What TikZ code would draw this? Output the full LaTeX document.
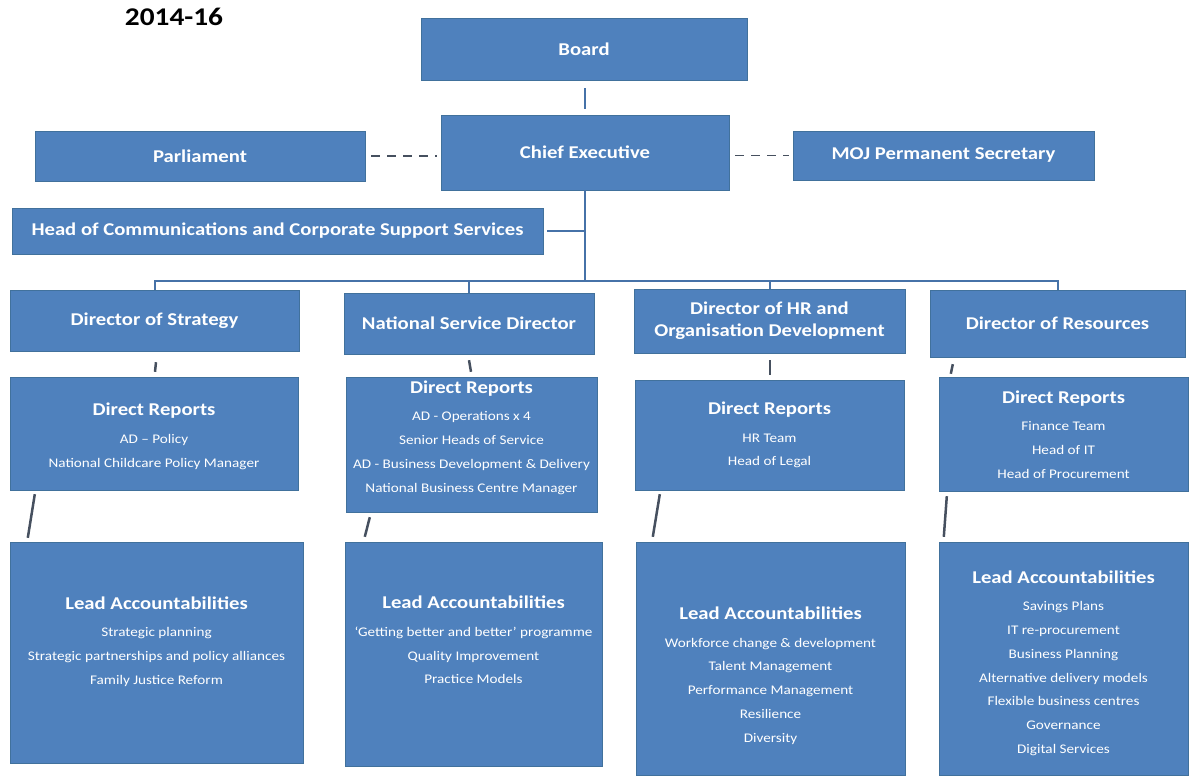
\documentclass[tikz,border=0pt]{standalone}
\usepackage{fontspec}
\setmainfont{Carlito}[FakeStretch=1.15]
\usetikzlibrary{calc}
\definecolor{boxblue}{HTML}{4F81BD}
\definecolor{boxedge}{HTML}{41719C}
\definecolor{linkblue}{HTML}{4672A8}
\definecolor{tickgrey}{HTML}{46505F}
\newcommand{\hdfont}{\fontsize{18}{22}\selectfont\bfseries}
\newcommand{\smfont}{\fontsize{13.2}{23.7}\selectfont}
\tikzset{
    box/.style={
        draw=boxedge, fill=boxblue, text=white,
        font=\hdfont, align=center, inner sep=2pt
    },
    boxtext/.style={text=white, font=\smfont, align=center, inner sep=0pt},
    link/.style={draw=linkblue, line width=2pt},
    tick/.style={draw=tickgrey, line width=2.5pt},
    dashlink/.style={draw=tickgrey, line width=1.6pt, dash pattern=on 9pt off 7pt}
}

\begin{document}
\begin{tikzpicture}[x=1pt, y=-1pt]
\useasboundingbox (0,0) rectangle (1190,776);

% Title
\node[font=\fontsize{25.5}{30}\selectfont\bfseries] (year) at (174,17) {2014-16};

% Top of the chart
\node[box, minimum width=326pt, minimum height=62pt] (board) at (584,49) {Board};
\node[box, minimum width=288pt, minimum height=75pt] (ceo) at (585,152.5) {Chief Executive};
\node[box, minimum width=330pt, minimum height=50pt] (parl) at (200,156) {Parliament};
\node[box, minimum width=301pt, minimum height=49pt] (moj) at (943.5,155.5) {MOJ Permanent Secretary};
\node[box, minimum width=531pt, minimum height=46pt] (comms) at (277.5,231) {Head of Communications and Corporate Support Services};

% Directors
\node[box, minimum width=289pt, minimum height=61pt] (ds) at (154.5,320.5) {Director of Strategy};
\node[box, minimum width=250pt, minimum height=61pt] (nsd) at (469,323.5) {National Service Director};
\node[box, minimum width=271pt, minimum height=64pt] (hr) at (769.5,321) {Director of HR and\\Organisation Development};
\node[box, minimum width=255pt, minimum height=67pt] (dres) at (1057.5,323.5) {Director of Resources};

% Direct reports
\node[box, minimum width=288pt, minimum height=113pt] (dr1) at (154,433.5) {};
\node[box, minimum width=251pt, minimum height=135pt] (dr2) at (471.5,444.5) {};
\node[box, minimum width=269pt, minimum height=110pt] (dr3) at (769.5,435) {};
\node[box, minimum width=249pt, minimum height=114pt] (dr4) at (1063.5,434) {};
\node[boxtext] (dr1t) at (154,436.5) {{\hdfont Direct Reports}\\[4pt]
    AD -- Policy\\ National Childcare Policy Manager};
\node[boxtext] (dr2t) at (471.5,437.5) {{\hdfont Direct Reports}\\[4pt]
    AD - Operations x 4\\ Senior Heads of Service\\
    AD - Business Development \& Delivery\\ National Business Centre Manager};
\node[boxtext] (dr3t) at (769.5,435) {{\hdfont Direct Reports}\\[4pt]
    HR Team\\ Head of Legal};
\node[boxtext] (dr4t) at (1063.5,434.5) {{\hdfont Direct Reports}\\[4pt]
    Finance Team\\ Head of IT\\ Head of Procurement};

% Lead accountabilities
\node[box, minimum width=293pt, minimum height=221pt] (la1) at (156.5,652.5) {};
\node[box, minimum width=257pt, minimum height=224pt] (la2) at (473.5,654) {};
\node[box, minimum width=269pt, minimum height=233pt] (la3) at (770.5,658.5) {};
\node[box, minimum width=249pt, minimum height=233pt] (la4) at (1063.5,658.5) {};
\node[boxtext] (la1t) at (156.5,641.5) {{\hdfont Lead Accountabilities}\\[4pt]
    Strategic planning\\ Strategic partnerships and policy alliances\\
    Family Justice Reform};
\node[boxtext] (la2t) at (473.5,640) {{\hdfont Lead Accountabilities}\\[4pt]
    `Getting better and better' programme\\ Quality Improvement\\
    Practice Models};
\node[boxtext] (la3t) at (770.5,675.5) {{\hdfont Lead Accountabilities}\\[4pt]
    Workforce change \& development\\ Talent Management\\
    Performance Management\\ Resilience\\ Diversity};
\node[boxtext] (la4t) at (1063.5,663) {{\hdfont Lead Accountabilities}\\[4pt]
    Savings Plans\\ IT re-procurement\\ Business Planning\\
    Alternative delivery models\\ Flexible business centres\\
    Governance\\ Digital Services};

% Reporting lines
\coordinate (bus) at (585,281);
\draw[link] ($(board.south)+(1,8)$) -- ($(ceo.north)+(0,-6)$);
\draw[link] (ceo.south) -- (bus);
\draw[link] ($(comms.east)+(4,0)$) -- (bus |- comms.east);
\draw[link] (ds.north) -- (ds.north |- bus) -- (dres.north |- bus) -- (dres.north);
\draw[link] (nsd.north) -- (nsd.north |- bus);
\draw[link] (hr.north) -- (hr.north |- bus);

% Dotted lines to Parliament and MOJ
\draw[dashlink] ($(parl.east)+(6,0)$) -- ($(ceo.west |- parl.east)+(-4,0)$);
\draw[dashlink] ($(ceo.east |- moj.west)+(6,0)$) -- ($(moj.west)+(-4,0)$);

% Director to direct reports
\draw[tick] ($(ds.south)+(1.5,11)$) -- ($(dr1.north)+(1,-5)$);
\draw[tick] ($(nsd.south)+(0,6)$) -- ($(dr2.north)+(-0.5,-5)$);
\draw[tick] ($(hr.south)+(0.5,7)$) -- ($(dr3.north)+(0.5,-5)$);
\draw[tick] ($(dres.south west)+(23,7)$) -- ($(dr4.north west)+(12,-3)$);

% Direct reports to lead accountabilities
\draw[tick] ($(dr1.south west)+(25,4)$) -- ($(la1.north west)+(18,-4)$);
\draw[tick] ($(dr2.south west)+(24,5)$) -- ($(la2.north west)+(20,-5)$);
\draw[tick] ($(dr3.south west)+(25,4)$) -- ($(la3.north west)+(17,-5)$);
\draw[tick] ($(dr4.south west)+(8,5)$) -- ($(la4.north west)+(5,-5)$);

\end{tikzpicture}
\end{document}
